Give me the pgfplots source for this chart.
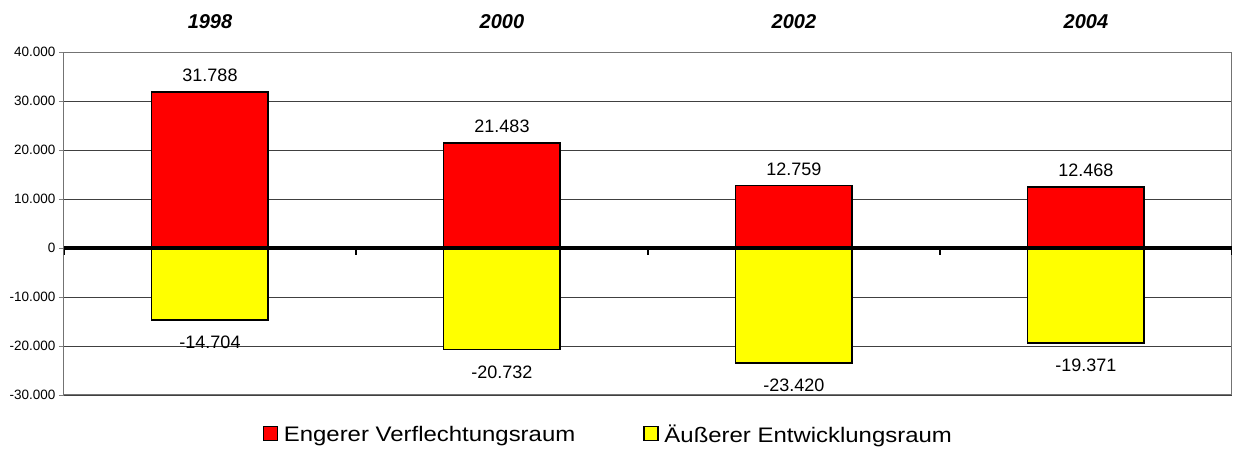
\documentclass[border=0pt]{standalone}
\usepackage{pgfplots}
\pgfplotsset{compat=1.18}
\usepackage{fontspec}
\setmainfont{Liberation Sans}
\newfontfamily\legendfont[FakeStretch=1.14]{Liberation Sans}
\definecolor{barred}{RGB}{255,0,0}
\definecolor{baryellow}{RGB}{255,255,0}
\begin{document}
\begin{tikzpicture}
\begin{axis}[
  at={(0pt,0pt)}, anchor=south west,
  scale only axis,
  width=1168pt, height=343pt,
  xmin=-0.5, xmax=3.5,
  ymin=-30000, ymax=40000,
  ytick={-30000,-20000,...,40000},
  xtick={0,1,2,3},
  xticklabels={1998,2000,2002,2004},
  xticklabel pos=upper,
  x tick label style={font=\fontsize{20}{22}\selectfont\bfseries\itshape, yshift=15pt},
  xtick style={draw=none},
  ytick pos=left,
  tick align=outside,
  major tick length=5pt,
  y tick label style={font=\fontsize{13.5}{15}\selectfont},
  /pgf/number format/.cd, 1000 sep={.}, assume math mode=true, /pgfplots/.cd,
  scaled y ticks=false,
  ymajorgrids,
  major grid style={black!75, line width=0.8pt},
  axis line style={black!55, line width=1pt},
  ybar,
  bar width=0.4,
  nodes near coords,
  nodes near coords align={vertical},
  every node near coord/.append style={font=\fontsize{18}{20}\selectfont, /pgf/number format/1000 sep={.}, /pgf/number format/assume math mode=true},
  legend style={draw=none, at={(axis description cs:0.466,-0.115)}, anchor=center, legend columns=2, font=\legendfont\fontsize{21}{23}\selectfont, /tikz/every odd column/.append style={column sep=4pt}, /tikz/every even column/.append style={column sep=66pt}},
  legend image code/.code={\draw[#1, line width=1.2pt] (0pt,-6pt) rectangle (14pt,8pt);},
]
\addplot[fill=barred, draw=black, line width=1.8pt, bar shift=0pt,
  every node near coord/.append style={yshift=6pt}]
  coordinates {(0,31788) (1,21483) (2,12759) (3,12468)};
\addlegendentry{Engerer Verflechtungsraum}
\addplot[fill=baryellow, draw=black, line width=1.8pt, bar shift=0pt,
  every node near coord/.append style={yshift=-12pt}]
  coordinates {(0,-14704) (1,-20732) (2,-23420) (3,-19371)};
\addlegendentry{Äußerer Entwicklungsraum}
\draw[black, line width=4pt] (axis cs:-0.5,0) -- (axis cs:3.5,0);
\pgfplotsinvokeforeach{-0.5,0.5,1.5,2.5,3.5}{
  \draw[black, line width=2.5pt] (axis cs:#1,0) -- ++(0pt,-7pt);
}
\end{axis}
\pgfresetboundingbox
\path (-64pt,-54pt) rectangle (1170pt,395pt);
\end{tikzpicture}
\end{document}
